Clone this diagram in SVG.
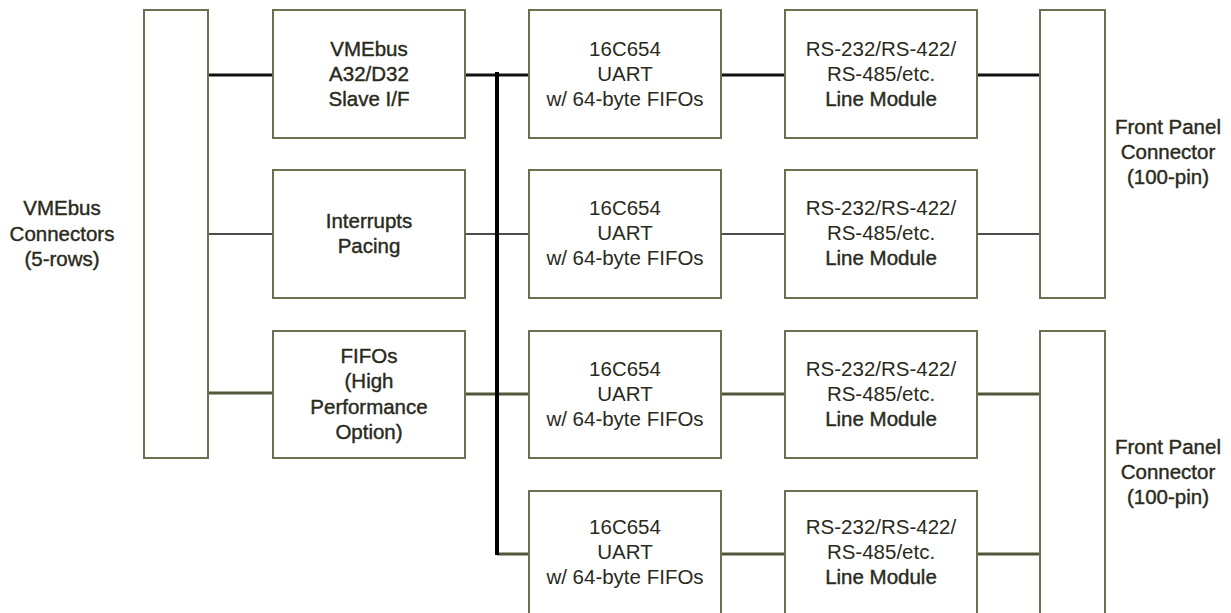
<svg xmlns="http://www.w3.org/2000/svg" width="1231" height="613" viewBox="0 0 1231 613">
<style>
.box{fill:#fff;stroke:#6e6e50;stroke-width:2}
.t{font-family:"Liberation Sans",Arial,sans-serif;font-size:20.5px;fill:#2a2a1c;text-anchor:middle}
.b{stroke:#2a2a1c;stroke-width:0.4}
.k{stroke:#111;stroke-width:3;fill:none}
.kt{stroke:#111;stroke-width:1.6;fill:none}
.o{stroke:#55553a;stroke-width:3;fill:none}
.bus{stroke:#000;stroke-width:4;fill:none}
</style>
<rect width="1231" height="613" fill="#fff"/>
<g id="connectors">
<line class="k" x1="208" y1="75" x2="273" y2="75"/>
<line class="kt" x1="208" y1="234" x2="273" y2="234"/>
<line class="o" x1="208" y1="393" x2="273" y2="393"/>
<line class="k" x1="465" y1="75" x2="529" y2="75"/>
<line class="kt" x1="465" y1="234" x2="529" y2="234"/>
<line class="o" x1="465" y1="394" x2="529" y2="394"/>
<line class="o" x1="497" y1="554" x2="529" y2="554"/>
<line class="bus" x1="497" y1="72" x2="497" y2="555"/>
<line class="k" x1="721" y1="75" x2="785" y2="75"/>
<line class="kt" x1="721" y1="234" x2="785" y2="234"/>
<line class="o" x1="721" y1="394" x2="785" y2="394"/>
<line class="o" x1="721" y1="554" x2="785" y2="554"/>
<line class="k" x1="977" y1="75" x2="1042" y2="75"/>
<line class="kt" x1="977" y1="234" x2="1042" y2="234"/>
<line class="o" x1="977" y1="394" x2="1042" y2="394"/>
<line class="o" x1="977" y1="554" x2="1042" y2="554"/>
</g>
<g id="vme-connectors">
<rect class="box" x="144" y="10" width="64" height="448"/>
<text class="t b" x="62" y="215">VMEbus</text>
<text class="t b" x="62" y="241">Connectors</text>
<text class="t b" x="62" y="266">(5-rows)</text>
</g>
<g id="slave-if">
<rect class="box" x="273" y="10" width="192" height="128"/>
<text class="t b" x="369" y="56">VMEbus</text>
<text class="t b" x="369" y="81">A32/D32</text>
<text class="t b" x="369" y="106">Slave I/F</text>
</g>
<g id="interrupts">
<rect class="box" x="273" y="170" width="192" height="128"/>
<text class="t b" x="369" y="228">Interrupts</text>
<text class="t b" x="369" y="253">Pacing</text>
</g>
<g id="fifos">
<rect class="box" x="273" y="331" width="192" height="127"/>
<text class="t b" x="369" y="363">FIFOs</text>
<text class="t b" x="369" y="388">(High</text>
<text class="t b" x="369" y="414">Performance</text>
<text class="t b" x="369" y="439">Option)</text>
</g>
<g id="uart1">
<rect class="box" x="529" y="10" width="192" height="128"/>
<text class="t" x="625" y="56">16C654</text>
<text class="t" x="625" y="81">UART</text>
<text class="t" x="625" y="106">w/ 64-byte FIFOs</text>
</g>
<g id="uart2">
<rect class="box" x="529" y="170" width="192" height="128"/>
<text class="t" x="625" y="215">16C654</text>
<text class="t" x="625" y="240">UART</text>
<text class="t" x="625" y="265">w/ 64-byte FIFOs</text>
</g>
<g id="uart3">
<rect class="box" x="529" y="331" width="192" height="127"/>
<text class="t" x="625" y="376">16C654</text>
<text class="t" x="625" y="401">UART</text>
<text class="t" x="625" y="426">w/ 64-byte FIFOs</text>
</g>
<g id="uart4">
<rect class="box" x="529" y="491" width="192" height="128"/>
<text class="t" x="625" y="534">16C654</text>
<text class="t" x="625" y="559">UART</text>
<text class="t" x="625" y="584">w/ 64-byte FIFOs</text>
</g>
<g id="line1">
<rect class="box" x="785" y="10" width="192" height="128"/>
<text class="t" x="881" y="56">RS-232/RS-422/</text>
<text class="t" x="881" y="81">RS-485/etc.</text>
<text class="t b" x="881" y="106">Line Module</text>
</g>
<g id="line2">
<rect class="box" x="785" y="170" width="192" height="128"/>
<text class="t" x="881" y="215">RS-232/RS-422/</text>
<text class="t" x="881" y="240">RS-485/etc.</text>
<text class="t b" x="881" y="265">Line Module</text>
</g>
<g id="line3">
<rect class="box" x="785" y="331" width="192" height="127"/>
<text class="t" x="881" y="376">RS-232/RS-422/</text>
<text class="t" x="881" y="401">RS-485/etc.</text>
<text class="t b" x="881" y="426">Line Module</text>
</g>
<g id="line4">
<rect class="box" x="785" y="491" width="192" height="128"/>
<text class="t" x="881" y="534">RS-232/RS-422/</text>
<text class="t" x="881" y="559">RS-485/etc.</text>
<text class="t b" x="881" y="584">Line Module</text>
</g>
<g id="front-panel-1">
<rect class="box" x="1040" y="10" width="65" height="288"/>
<text class="t b" x="1168" y="134">Front Panel</text>
<text class="t b" x="1168" y="159">Connector</text>
<text class="t b" x="1168" y="184">(100-pin)</text>
</g>
<g id="front-panel-2">
<rect class="box" x="1040" y="331" width="65" height="300"/>
<text class="t b" x="1168" y="454">Front Panel</text>
<text class="t b" x="1168" y="479">Connector</text>
<text class="t b" x="1168" y="504">(100-pin)</text>
</g>
</svg>
